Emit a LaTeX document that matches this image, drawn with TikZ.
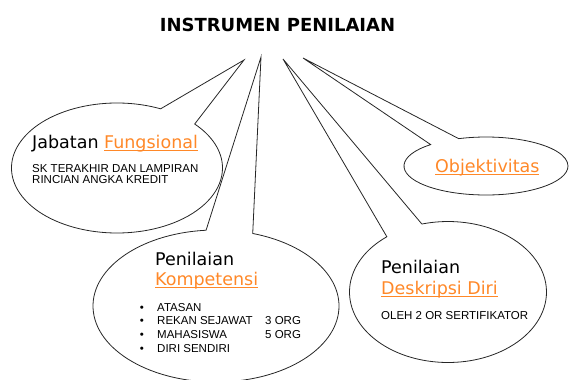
\documentclass[tikz,border=0pt]{standalone}
\usepackage{fontspec}
\setmainfont{DejaVu Sans}
\newfontfamily\notefont{Liberation Sans}
\usetikzlibrary{shapes.callouts}

\definecolor{linkorange}{RGB}{255,136,40}
\newcommand\linkword[1]{\textcolor{linkorange}{\setbox0\hbox{#1}\rlap{\rule[-2.6pt]{\wd0}{0.9pt}}\box0}}

\begin{document}
\begin{tikzpicture}[x=1pt, y=-1pt,
  bubble/.style={ellipse callout, draw=black!85, line width=0.8pt, inner sep=0pt},
  headtext/.style={anchor=base west, inner sep=0pt, font=\fontsize{17.5}{20}\selectfont},
  notetext/.style={anchor=base west, inner sep=0pt, font=\notefont\fontsize{11.5}{13}\selectfont}]
  \useasboundingbox (0,0) rectangle (570,380);
  \clip (0,0) rectangle (570,380);

  % Title
  \node[inner sep=0pt, anchor=base, font=\fontsize{18}{20}\selectfont\bfseries] (title) at (277.5,31) {INSTRUMEN PENILAIAN};

  % Pointer tips under the title
  \coordinate (tipJab) at (244,60);
  \coordinate (tipKom) at (261,57);
  \coordinate (tipDes) at (283,59);
  \coordinate (tipObj) at (303,58);

  % Speech bubbles
  \node[bubble, minimum width=211pt, minimum height=130pt, callout absolute pointer={(tipJab)}, callout pointer arc=23] (jabatan) at (117,168) {};
  \node[bubble, minimum width=246pt, minimum height=152pt, callout absolute pointer={(tipKom)}, callout pointer arc=22] (kompetensi) at (216,306) {};
  \node[bubble, minimum width=197pt, minimum height=141pt, callout absolute pointer={(tipDes)}, callout pointer arc=23] (deskripsi) at (448,292) {};
  \node[bubble, minimum width=164pt, minimum height=58pt, callout absolute pointer={(tipObj)}, callout pointer arc=23] (objektif) at (486,166) {};

  % Jabatan Fungsional
  \node[headtext] (jabTitle) at (32,148) {Jabatan \linkword{Fungsional}};
  \node[notetext] (jabNote1) at (32,172) {SK TERAKHIR DAN LAMPIRAN};
  \node[notetext] (jabNote2) at (32,183.5) {RINCIAN ANGKA KREDIT};

  % Objektivitas
  \node[headtext] (objTitle) at (435,172) {\linkword{Objektivitas}};

  % Penilaian Kompetensi
  \node[headtext] (komTitle) at (155,265) {Penilaian};
  \node[headtext] (komLink) at (155,285) {\linkword{Kompetensi}};
  \foreach \entry [count=\i from 0] in {ATASAN, REKAN SEJAWAT, MAHASISWA, DIRI SENDIRI} {
    \node[notetext, anchor=base] (dot\i) at (142,311+13.7*\i) {•};
    \node[notetext] (entry\i) at (157,311+13.7*\i) {\entry};
  }
  \node[notetext] (orgA) at (265,324.7) {3 ORG};
  \node[notetext] (orgB) at (265,338.4) {5 ORG};

  % Penilaian Deskripsi Diri
  \node[headtext] (desTitle) at (381,273) {Penilaian};
  \node[headtext] (desLink) at (381,294) {\linkword{Deskripsi Diri}};
  \node[notetext] (desNote) at (381,319) {OLEH 2 OR SERTIFIKATOR};
\end{tikzpicture}
\end{document}
